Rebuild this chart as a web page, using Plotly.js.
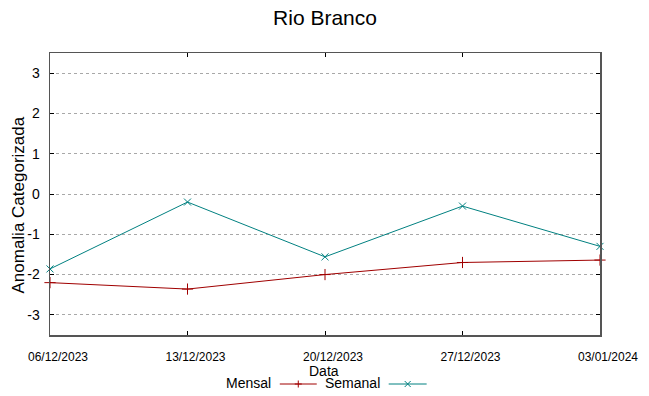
<!DOCTYPE html>
<html>
<head>
<meta charset="utf-8">
<script src="https://cdn.plot.ly/plotly-3.0.1.min.js"></script>
<style>html,body{margin:0;padding:0;background:#fff}#chart{width:649px;height:396px}</style>
</head>
<body>
<div id="chart"></div>
<script>
const dates = ['2023-12-06', '2023-12-13', '2023-12-20', '2023-12-27', '2024-01-03'];
const dateLabels = ['06/12/2023', '13/12/2023', '20/12/2023', '27/12/2023', '03/01/2024'];
const mensal = [-2.2, -2.36, -2.0, -1.7, -1.64];
const semanal = [-1.86, -0.2, -1.56, -0.3, -1.3];
const yTickVals = [3, 2, 1, 0, -1, -2, -3];
const yTickText = ['3', '2', '1', '0', '-1', '-2', '-3'];

const FONT = 'Liberation Sans, Arial, sans-serif';
const RED = '#a00000';
const TEAL = '#008080';

// plot area in px: x 50..600.5, y 53..335
const L = 50, R = 600.5, T = 53, B = 335;
const px = x => (x - L) / (R - L);
const py = y => (B - y) / (B - T);

const traces = [
  {x: dates, y: mensal, name: 'Mensal', type: 'scatter', mode: 'lines+markers',
   line: {color: RED, width: 1},
   marker: {symbol: 'cross-thin', size: 8, line: {color: RED, width: 1}, color: RED},
   cliponaxis: false},
  {x: dates, y: semanal, name: 'Semanal', type: 'scatter', mode: 'lines+markers',
   line: {color: TEAL, width: 1},
   marker: {symbol: 'x-thin', size: 7, line: {color: TEAL, width: 1}, color: TEAL},
   cliponaxis: false}
];

function legendLine(x0, x1, y, color) {
  return {type: 'line', xref: 'paper', yref: 'paper', x0: px(x0), x1: px(x1), y0: py(y), y1: py(y),
          line: {color: color, width: 1}};
}
function plusPath(cx, cy, s, color) {
  return {type: 'path', xref: 'paper', yref: 'paper',
    path: `M${px(cx - s)},${py(cy)} L${px(cx + s)},${py(cy)} M${px(cx)},${py(cy - s)} L${px(cx)},${py(cy + s)}`,
    line: {color: color, width: 1}};
}
function xPath(cx, cy, s, color) {
  return {type: 'path', xref: 'paper', yref: 'paper',
    path: `M${px(cx - s)},${py(cy - s)} L${px(cx + s)},${py(cy + s)} M${px(cx - s)},${py(cy + s)} L${px(cx + s)},${py(cy - s)}`,
    line: {color: color, width: 1}};
}

const layout = {
  width: 649, height: 396,
  margin: {l: L, r: 649 - R, t: T, b: 396 - B, pad: 0},
  paper_bgcolor: '#fff', plot_bgcolor: '#fff',
  showlegend: false,
  font: {family: FONT, color: '#000'},
  title: {text: 'Rio Branco', font: {family: FONT, size: 21, color: '#000'},
          xref: 'paper', x: 0.5, xanchor: 'center', yref: 'container', y: 1 - 18 / 396, yanchor: 'middle'},
  xaxis: {
    type: 'date', range: [dates[0], dates[dates.length - 1]],
    tickmode: 'array', tickvals: dates, ticktext: dateLabels,
    ticks: 'inside', ticklen: 4, tickcolor: '#000', tickwidth: 1,
    showline: true, linecolor: '#555', linewidth: 1.5, mirror: 'ticks',
    showgrid: false, zeroline: false,
    tickfont: {family: FONT, size: 12, color: '#000'},
    ticklabelstandoff: 10, ticklabelshift: 8
  },
  yaxis: {
    range: [-3.5, 3.5],
    tickmode: 'array', tickvals: yTickVals, ticktext: yTickText,
    ticks: 'inside', ticklen: 4, tickcolor: '#000', tickwidth: 1,
    showline: true, linecolor: '#555', linewidth: 1.5, mirror: 'ticks',
    showgrid: true, gridcolor: '#a8a8a8', griddash: 'dot', gridwidth: 1,
    zeroline: false,
    tickfont: {family: FONT, size: 14, color: '#000'},
    ticklabelstandoff: 6
  },
  annotations: [
    {text: 'Data', xref: 'paper', yref: 'paper', x: px(324.5), y: py(370.5), xanchor: 'center', yanchor: 'middle',
     showarrow: false, font: {family: FONT, size: 14, color: '#000'}},
    {text: 'Anomalia Categorizada', xref: 'paper', yref: 'paper', x: px(18), y: py(205.5), textangle: -90,
     xanchor: 'center', yanchor: 'middle', showarrow: false, font: {family: FONT, size: 17, color: '#000'}},
    {text: 'Mensal', xref: 'paper', yref: 'paper', x: px(273), y: py(382.5), xanchor: 'right', yanchor: 'middle',
     showarrow: false, font: {family: FONT, size: 14, color: '#000'}},
    {text: 'Semanal', xref: 'paper', yref: 'paper', x: px(382), y: py(382.5), xanchor: 'right', yanchor: 'middle',
     showarrow: false, font: {family: FONT, size: 14, color: '#000'}}
  ],
  shapes: [
    legendLine(280, 317, 384, RED),
    plusPath(298.5, 384, 3.5, RED),
    legendLine(389, 427, 384, TEAL),
    xPath(408, 384, 3, TEAL)
  ]
};

Plotly.newPlot('chart', traces, layout, {displayModeBar: false, staticPlot: true});
</script>
</body>
</html>
